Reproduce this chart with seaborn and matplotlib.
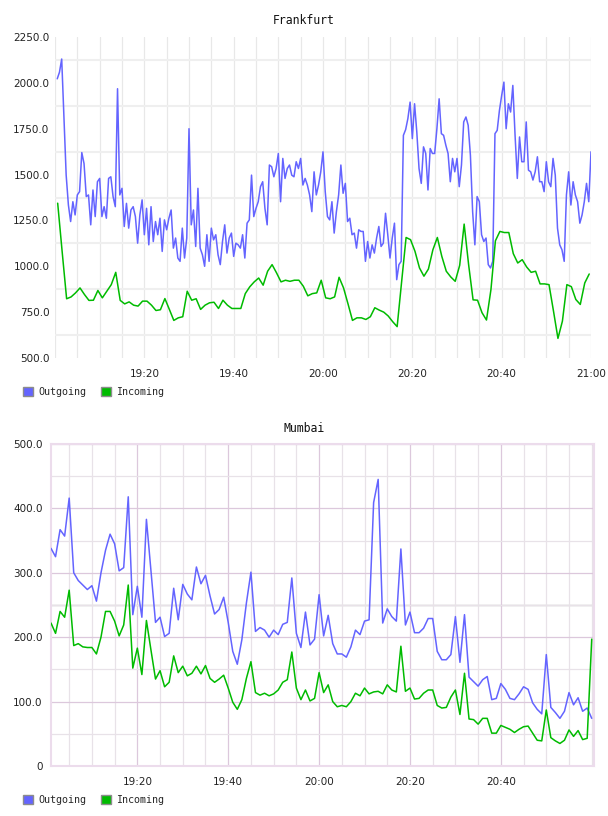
import numpy as np
import pandas as pd
import matplotlib
matplotlib.use("Agg")
import matplotlib.pyplot as plt
import seaborn as sns
from matplotlib.patches import Patch
from matplotlib.ticker import MultipleLocator, FixedLocator, FixedFormatter

sns.set_theme(style="white")
plt.rcParams['font.family'] = ['DejaVu Sans']

# ---------------- data ----------------
series_names = ["Outgoing", "Incoming"]
time_ticks = ["19:20", "19:40", "20:00", "20:20", "20:40", "21:00"]

# Frankfurt outgoing: every 30 s starting 19:00:30
fra_out = [
    2022, 2058, 2130, 1814, 1497, 1334, 1244, 1352, 1280, 1389,
    1407, 1620, 1560, 1380, 1389, 1226, 1416, 1271, 1461, 1479,
    1271, 1325, 1262, 1479, 1488, 1380, 1325, 1968, 1389, 1425,
    1217, 1343, 1208, 1307, 1325, 1271, 1126, 1280, 1362, 1172,
    1316, 1117, 1325, 1135, 1244, 1172, 1262, 1081, 1253, 1199,
    1262, 1307, 1099, 1154, 1045, 1027, 1208, 1045, 1154, 1750,
    1226, 1307, 1108, 1425, 1099, 1063, 1000, 1172, 1027, 1208,
    1144, 1172, 1063, 1009, 1135, 1226, 1072, 1154, 1181, 1054,
    1126, 1117, 1099, 1172, 1045, 1235, 1253, 1497, 1271, 1316,
    1352, 1434, 1461, 1316, 1226, 1552, 1543, 1488, 1533, 1615,
    1352, 1588, 1479, 1533, 1552, 1497, 1488, 1570, 1533, 1588,
    1443, 1479, 1443, 1389, 1298, 1515, 1389, 1443, 1515, 1624,
    1407, 1271, 1253, 1352, 1181, 1298, 1389, 1552, 1398, 1452,
    1244, 1262, 1172, 1181, 1099, 1199, 1190, 1190, 1027, 1135,
    1045, 1117, 1072, 1154, 1217, 1108, 1126, 1289, 1172, 1045,
    1154, 1235, 927, 1009, 1027, 1714, 1745, 1805, 1895, 1696,
    1886, 1732, 1533, 1452, 1651, 1615, 1416, 1642, 1615, 1615,
    1750, 1913, 1723, 1714, 1660, 1615, 1461, 1588, 1515, 1588,
    1434, 1552, 1787, 1814, 1769, 1606, 1298, 1117, 1380, 1352,
    1172, 1135, 1154, 1009, 991, 1027, 1723, 1741, 1850, 1931,
    2004, 1750, 1886, 1841, 1986, 1714, 1479, 1705, 1570, 1570,
    1787, 1524, 1515, 1470, 1515, 1597, 1461, 1461, 1407, 1570,
    1461, 1434, 1588, 1497, 1208, 1117, 1090, 1027, 1389, 1515,
    1334, 1461, 1389, 1352, 1235, 1280, 1352, 1452, 1352, 1624,
]
# Frankfurt incoming: every minute starting 19:00:36
fra_in = [
    1344, 1080, 823, 833, 855, 882, 846, 814, 815, 868,
    828, 864, 900, 967, 814, 795, 806, 788, 783, 810,
    810, 788, 759, 763, 824, 765, 705, 719, 725, 864,
    815, 823, 765, 788, 801, 804, 770, 815, 788, 770,
    770, 770, 851, 888, 915, 936, 897, 973, 1009, 964,
    915, 924, 918, 924, 924, 891, 839, 851, 855, 924,
    828, 823, 833, 940, 882, 795, 705, 719, 719, 710,
    725, 774, 761, 750, 729, 698, 671, 915, 1157, 1145,
    1081, 991, 946, 985, 1090, 1157, 1054, 973, 942, 918,
    1005, 1230, 1009, 817, 815, 747, 707, 873, 1139, 1190,
    1184, 1184, 1069, 1018, 1036, 996, 967, 973, 904, 904,
    900, 756, 607, 701, 900, 889, 819, 792, 909, 958,
]
# Mumbai: every minute 19:01 .. 21:00
mum_out = [
    338, 325, 367, 357, 416, 300, 288, 281, 274, 280,
    256, 300, 335, 360, 345, 303, 308, 418, 235, 279,
    231, 383, 303, 223, 231, 201, 206, 276, 227, 282,
    267, 258, 309, 283, 296, 264, 236, 243, 262, 223,
    178, 158, 196, 253, 301, 209, 215, 211, 200, 211,
    204, 220, 223, 292, 206, 184, 239, 188, 197, 266,
    202, 234, 190, 174, 174, 169, 185, 211, 204, 225,
    227, 409, 445, 222, 244, 232, 225, 337, 219, 239,
    207, 207, 214, 229, 229, 178, 165, 165, 173, 232,
    161, 235, 138, 131, 124, 134, 139, 103, 105, 128,
    119, 105, 103, 112, 123, 119, 98, 88, 81, 173,
    91, 83, 74, 85, 114, 95, 106, 85, 90, 74,
]
mum_in = [
    222, 206, 240, 231, 273, 187, 190, 185, 184, 184,
    174, 200, 240, 240, 225, 202, 219, 281, 152, 183,
    142, 226, 180, 135, 148, 123, 130, 171, 145, 155,
    140, 144, 155, 143, 156, 136, 130, 135, 141, 121,
    99, 88, 103, 136, 162, 114, 110, 113, 109, 112,
    118, 130, 134, 177, 121, 103, 118, 101, 105, 145,
    114, 126, 100, 92, 94, 92, 100, 113, 109, 121,
    112, 115, 116, 112, 126, 118, 115, 186, 116, 121,
    104, 105, 113, 118, 118, 94, 90, 91, 107, 118,
    80, 144, 73, 72, 65, 74, 74, 51, 51, 63,
    60, 57, 52, 57, 61, 62, 51, 40, 39, 87,
    44, 39, 35, 40, 56, 46, 55, 41, 43, 197,
]

BLUE = "#6464ff"
GREEN = "#00bb00"
palette = {"Outgoing": BLUE, "Incoming": GREEN}

# minutes after 19:00
t_fra_out = 0.5 + 0.5 * np.arange(len(fra_out))
t_fra_in = 0.6 + np.arange(len(fra_in))
t_mum = 1.0 + np.arange(len(mum_out))

df_fra = pd.concat([
    pd.DataFrame({"t": t_fra_out, "v": fra_out, "s": "Outgoing"}),
    pd.DataFrame({"t": t_fra_in, "v": fra_in, "s": "Incoming"}),
])
df_mum = pd.concat([
    pd.DataFrame({"t": t_mum, "v": mum_out, "s": "Outgoing"}),
    pd.DataFrame({"t": t_mum, "v": mum_in, "s": "Incoming"}),
])

# ---------------- figure ----------------
W, H = 608, 816
fig = plt.figure(figsize=(W / 100, H / 100), dpi=100)
fig.patch.set_facecolor("white")


def ax_px(l, t, r, b):
    return fig.add_axes([l / W, 1 - b / H, (r - l) / W, (b - t) / H])


ax1 = ax_px(55, 37, 591, 358)
ax2 = ax_px(51, 444, 594, 766)

for ax, df in ((ax1, df_fra), (ax2, df_mum)):
    sns.lineplot(data=df, x="t", y="v", hue="s", palette=palette,
                 hue_order=series_names, ax=ax, legend=False,
                 linewidth=1.1, estimator=None, sort=False, zorder=3)
    ax.set_xlabel("")
    ax.set_ylabel("")
    ax.set_facecolor("white")

# Frankfurt
ax1.set_xlim(0, 120)
ax1.set_ylim(500, 2250)
for s in ax1.spines.values():
    s.set_visible(False)
yt1 = np.arange(500, 2251, 250)
ax1.yaxis.set_major_locator(FixedLocator(yt1))
ax1.yaxis.set_major_formatter(FixedFormatter([f"{v:.1f}" for v in yt1]))
ax1.yaxis.set_minor_locator(FixedLocator(np.arange(625, 2250, 250)))
ax1.xaxis.set_major_locator(FixedLocator([20, 40, 60, 80, 100, 120]))
ax1.xaxis.set_major_formatter(FixedFormatter(time_ticks))
ax1.xaxis.set_minor_locator(MultipleLocator(5))
ax1.grid(False)
ax1.grid(True, which="both", axis="x", color="#e8e8e8", lw=0.9, zorder=0)
ax1.grid(True, which="minor", axis="y", color="#efefef", lw=1.5, zorder=0)
ax1.tick_params(which="both", length=0)
ax1.tick_params(axis="y", pad=4, labelsize=7.5, labelcolor="#222222")
ax1.tick_params(axis="x", pad=8, labelsize=7.5, labelcolor="#222222")

# Mumbai
ax2.set_xlim(1, 120.5)
ax2.set_ylim(0, 500)
for s in ax2.spines.values():
    s.set_visible(True)
    s.set_color("#ecdcec")
    s.set_linewidth(1.5)
yt2 = np.arange(0, 501, 100)
ax2.yaxis.set_major_locator(FixedLocator(yt2))
ax2.yaxis.set_major_formatter(FixedFormatter(["0" if v == 0 else f"{v:.1f}" for v in yt2]))
ax2.yaxis.set_minor_locator(MultipleLocator(50))
ax2.xaxis.set_major_locator(FixedLocator([20, 40, 60, 80, 100]))
ax2.xaxis.set_major_formatter(FixedFormatter(time_ticks[:5]))
ax2.xaxis.set_minor_locator(MultipleLocator(5))
ax2.grid(False)
ax2.axhline(250, color="#eeeeee", lw=1.8, zorder=0)
ax2.grid(True, which="major", color="#dcc8dc", lw=0.9, zorder=1)
ax2.grid(True, which="minor", color="#e8e2e8", lw=0.9, zorder=1)
ax2.tick_params(which="both", length=0)
ax2.tick_params(axis="y", pad=6, labelsize=7.5, labelcolor="#222222")
ax2.tick_params(axis="x", pad=8, labelsize=7.5, labelcolor="#222222")

# titles
fig.text(0.5, 1 - 20 / H, "Frankfurt", ha="center", va="center",
         family="DejaVu Sans Mono", size=8.3, color="#111111")
fig.text(0.5, 1 - 429 / H, "Mumbai", ha="center", va="center",
         family="DejaVu Sans Mono", size=8.3, color="#111111")


def add_legend(ax, top_px):
    handles = [Patch(facecolor=palette[n], edgecolor="#8c8c8c", lw=1, label=n)
               for n in series_names]
    ax.legend(handles=handles, loc="upper left",
              bbox_to_anchor=(23 / W, 1 - top_px / H),
              bbox_transform=fig.transFigure, ncol=2, frameon=False,
              prop={"family": "DejaVu Sans Mono", "size": 7.2},
              handlelength=1.0, handleheight=1.0, handletextpad=0.5,
              columnspacing=1.5, borderpad=0, borderaxespad=0)


add_legend(ax1, 387)
add_legend(ax2, 795)

fig.savefig("out.png", dpi=100, facecolor="white")
